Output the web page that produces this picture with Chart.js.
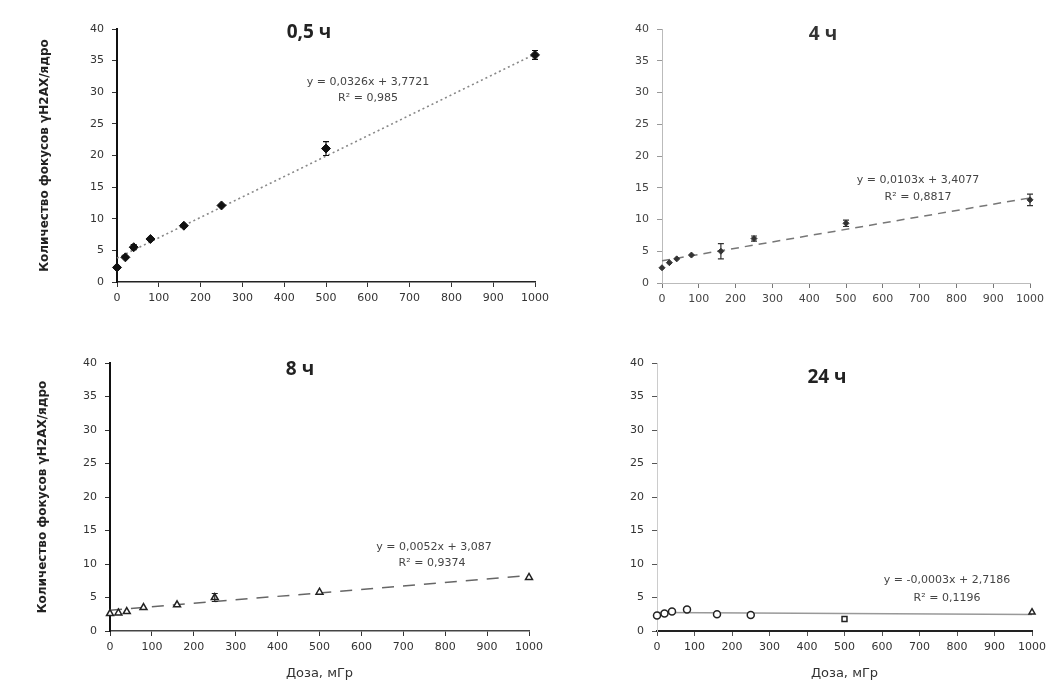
<!DOCTYPE html>
<html><head><meta charset="utf-8">
<script src="https://cdn.jsdelivr.net/npm/chart.js@4.4.1/dist/chart.umd.min.js"></script>
<style>
body{margin:0;background:#fff;width:1051px;height:686px;overflow:hidden;position:relative;}
canvas{position:absolute;}
</style></head><body>
<canvas id="p1" width="555" height="320" style="left:0;top:0"></canvas>
<canvas id="p2" width="491" height="320" style="left:560px;top:0"></canvas>
<canvas id="p3" width="555" height="346" style="left:0;top:340px"></canvas>
<canvas id="p4" width="491" height="346" style="left:560px;top:340px"></canvas>
<script>
// ---- data ----
const doses = [0, 20, 40, 80, 160, 250, 500, 1000];
const foci05 = [2.3, 3.9, 5.5, 6.8, 8.9, 12.1, 21.1, 35.9];
const err05  = [0.2, 0.2, 0.4, 0.3, 0.3, 0.3, 1.1, 0.7];
const foci4  = [2.4, 3.2, 3.8, 4.4, 5.0, 7.0, 9.4, 13.1];
const err4   = [0.1, 0.2, 0.2, 0.2, 1.2, 0.4, 0.5, 0.9];
const foci8  = [2.6, 2.7, 2.9, 3.5, 3.9, 5.0, 5.8, 8.0];
const err8   = [0.1, 0.1, 0.1, 0.1, 0.2, 0.6, 0.3, 0.3];
const foci24 = [2.3, 2.6, 2.9, 3.2, 2.5, 2.4, 1.8, 2.8];
const err24  = [0.1, 0.1, 0.1, 0.1, 0.1, 0.1, 0.1, 0.1];
const trendX   = [0, 1000];
const trend05  = [3.77, 36.03];
const trend4   = [3.5, 13.4];
const trend8   = [3.09, 8.29];
const trend24  = [2.75, 2.45];
const yMin = 0, yMax = 40, yStep = 5;
const xMin = 0, xMax = 1000, xStep = 100;
const panelTitles = ["0,5 ч", "4 ч", "8 ч", "24 ч"];
const equations = [
  ["y = 0,0326x + 3,7721", "R² = 0,985"],
  ["y = 0,0103x + 3,4077", "R² = 0,8817"],
  ["y = 0,0052x + 3,087", "R² = 0,9374"],
  ["y = -0,0003x + 2,7186", "R² = 0,1196"]
];
const yTitle = "Количество фокусов γH2AX/ядро";
const xTitle = "Доза, мГр";

// ---- plugins ----
const errPlugin = {
  id: 'errbars',
  afterDatasetsDraw(chart, args, opts) {
    if (!opts || !opts.errs) return;
    const {ctx, scales:{x, y}} = chart;
    ctx.save();
    ctx.strokeStyle = opts.color || '#000';
    ctx.lineWidth = 1.2;
    opts.xs.forEach((xv, i) => {
      const e = opts.errs[i];
      if (!e) return;
      const px = x.getPixelForValue(xv);
      const p1 = y.getPixelForValue(opts.ys[i] + e);
      const p2 = y.getPixelForValue(opts.ys[i] - e);
      if (Math.abs(p2 - p1) < 5) return;
      ctx.beginPath();
      ctx.moveTo(px, p1); ctx.lineTo(px, p2);
      ctx.moveTo(px - 3, p1); ctx.lineTo(px + 3, p1);
      ctx.moveTo(px - 3, p2); ctx.lineTo(px + 3, p2);
      ctx.stroke();
    });
    ctx.restore();
  }
};
const textPlugin = {
  id: 'texts',
  afterDraw(chart, args, opts) {
    if (!opts || !opts.items) return;
    const ctx = chart.ctx;
    ctx.save();
    ctx.textAlign = 'center';
    ctx.textBaseline = 'middle';
    opts.items.forEach(it => {
      ctx.font = it.font;
      ctx.fillStyle = it.color;
      ctx.fillText(it.t, it.x, it.y);
    });
    ctx.restore();
  }
};

function makePanel(id, c) {
  const pts = doses.map((d, i) => ({x: d, y: c.vals[i]}));
  const tr = trendX.map((d, i) => ({x: d, y: c.trend[i]}));
  new Chart(document.getElementById(id), {
    type: 'scatter',
    data: {
      datasets: [
        {
          data: pts,
          pointStyle: c.pointStyle,
          pointRadius: c.pointRadius,
          backgroundColor: c.pointFill,
          borderColor: c.pointColor,
          borderWidth: c.pointBorder,
          showLine: false,
          clip: false
        },
        {
          data: tr,
          showLine: true,
          pointRadius: 0,
          borderColor: c.trendColor,
          borderWidth: c.trendWidth,
          borderDash: c.trendDash,
          fill: false,
          clip: false
        }
      ]
    },
    options: {
      responsive: false,
      animation: false,
      events: [],
      layout: {padding: c.padding},
      plugins: {
        legend: {display: false},
        tooltip: {enabled: false},
        errbars: {xs: doses, ys: c.vals, errs: c.errs, color: c.pointColor},
        texts: {items: c.texts}
      },
      scales: {
        x: {
          type: 'linear', min: xMin, max: xMax,
          ticks: {stepSize: xStep, color: c.tickColor, font: {family: 'DejaVu Sans', size: 11}, padding: 5, maxRotation: 0, callback: v => String(v)},
          grid: {drawOnChartArea: false, drawTicks: true, tickLength: 5, color: c.xTickMark, lineWidth: 1},
          border: {display: true, color: c.xAxisColor, width: c.xAxisWidth},
          title: c.xTitle ? {display: true, text: xTitle, color: '#333', font: {family: 'DejaVu Sans', size: 13}, padding: {top: 2, bottom: 5}} : {display: false},
          afterFit(s) { s.height = c.xH; }
        },
        y: {
          min: yMin, max: yMax,
          ticks: {stepSize: yStep, color: c.tickColor, font: {family: 'DejaVu Sans', size: 11}, padding: 8, callback: v => String(v)},
          grid: {drawOnChartArea: false, drawTicks: true, tickLength: 5, color: c.yTickMark, lineWidth: 1},
          border: {display: true, color: c.yAxisColor, width: c.yAxisWidth},
          title: c.yTitle ? {display: true, text: yTitle, color: '#222', font: {family: 'DejaVu Sans', size: 12, weight: 'bold'}, padding: {top: 3, bottom: 0}} : {display: false},
          afterFit(s) { s.width = c.yW; }
        }
      }
    },
    plugins: [errPlugin, textPlugin]
  });
}

const titleFont = 'bold 19px "Open Sans"';
const eqFont = '11px "DejaVu Sans"';

makePanel('p1', {
  vals: foci05, errs: err05, trend: trend05,
  pointStyle: 'rectRot', pointRadius: 4.5, pointFill: '#111', pointColor: '#111', pointBorder: 1,
  trendColor: '#888', trendWidth: 1.6, trendDash: [2, 3],
  padding: {left: 35, top: 29, right: 20, bottom: 0},
  yW: 82, xH: 38, yTitle: true, xTitle: false,
  tickColor: '#333', xTickMark: '#333', yTickMark: '#333',
  xAxisColor: '#222', xAxisWidth: 1.5, yAxisColor: '#111', yAxisWidth: 2,
  texts: [
    {t: panelTitles[0], x: 309, y: 33, font: titleFont, color: '#222'},
    {t: equations[0][0], x: 368, y: 82, font: eqFont, color: '#444'},
    {t: equations[0][1], x: 368, y: 98, font: eqFont, color: '#444'}
  ]
});
makePanel('p2', {
  vals: foci4, errs: err4, trend: trend4,
  pointStyle: 'rectRot', pointRadius: 3, pointFill: '#333', pointColor: '#333', pointBorder: 1,
  trendColor: '#777', trendWidth: 1.5, trendDash: [8, 6],
  padding: {left: 20, top: 29, right: 21, bottom: 0},
  yW: 82, xH: 37, yTitle: false, xTitle: false,
  tickColor: '#444', xTickMark: '#777', yTickMark: '#999',
  xAxisColor: '#bbb', xAxisWidth: 1, yAxisColor: '#bbb', yAxisWidth: 1,
  texts: [
    {t: panelTitles[1], x: 263, y: 35, font: titleFont, color: '#333'},
    {t: equations[1][0], x: 358, y: 180, font: eqFont, color: '#444'},
    {t: equations[1][1], x: 358, y: 197, font: eqFont, color: '#444'}
  ]
});
makePanel('p3', {
  vals: foci8, errs: err8, trend: trend8,
  pointStyle: 'triangle', pointRadius: 4, pointFill: '#fff', pointColor: '#222', pointBorder: 1.5,
  trendColor: '#666', trendWidth: 1.5, trendDash: [12, 9],
  padding: {left: 33, top: 23, right: 26, bottom: 0},
  yW: 77, xH: 55, yTitle: true, xTitle: true,
  tickColor: '#333', xTickMark: '#333', yTickMark: '#333',
  xAxisColor: '#444', xAxisWidth: 1.5, yAxisColor: '#111', yAxisWidth: 2,
  texts: [
    {t: panelTitles[2], x: 300, y: 30, font: titleFont, color: '#222'},
    {t: equations[2][0], x: 434, y: 207, font: eqFont, color: '#444'},
    {t: equations[2][1], x: 432, y: 223, font: eqFont, color: '#444'}
  ]
});
makePanel('p4', {
  vals: foci24, errs: err24, trend: trend24,
  pointStyle: ['circle','circle','circle','circle','circle','circle','rect','triangle'], pointRadius: 3.5, pointFill: '#fff', pointColor: '#222', pointBorder: 1.5,
  trendColor: '#999', trendWidth: 1.5, trendDash: [],
  padding: {left: 15, top: 23, right: 16, bottom: 0},
  yW: 82, xH: 55, yTitle: false, xTitle: true,
  tickColor: '#333', xTickMark: '#555', yTickMark: '#555',
  xAxisColor: '#222', xAxisWidth: 2, yAxisColor: '#ccc', yAxisWidth: 1,
  texts: [
    {t: panelTitles[3], x: 267, y: 38, font: titleFont, color: '#222'},
    {t: equations[3][0], x: 387, y: 240, font: eqFont, color: '#444'},
    {t: equations[3][1], x: 387, y: 258, font: eqFont, color: '#444'}
  ]
});
</script>
</body></html>
